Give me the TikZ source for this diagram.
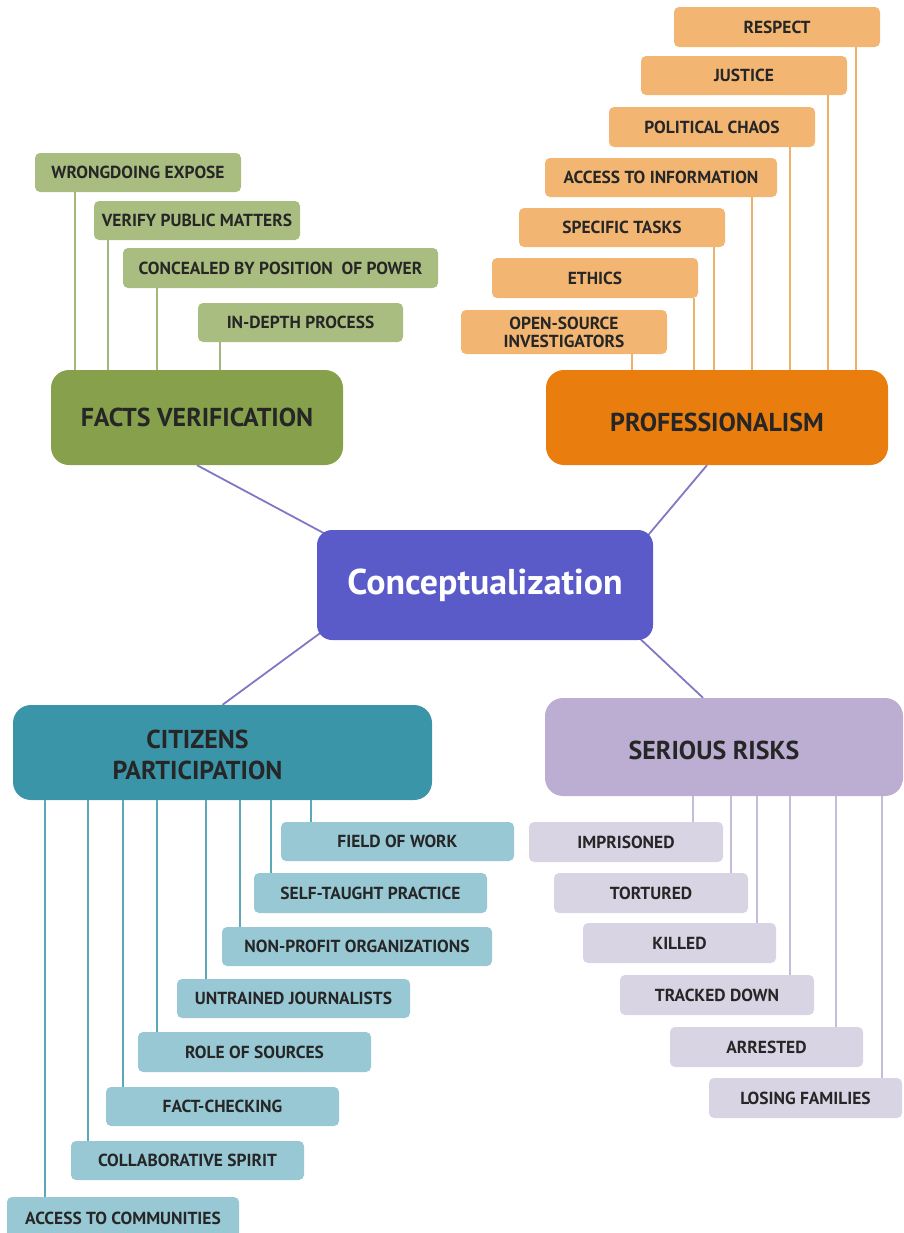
\documentclass[tikz,border=0pt]{standalone}
\usepackage{fontspec}
\setmainfont{PT Sans}
\usetikzlibrary{backgrounds}
\definecolor{gmain}{HTML}{86A04B}
\definecolor{glight}{HTML}{AABD80}
\definecolor{gline}{HTML}{A3B878}
\definecolor{omain}{HTML}{E97E0E}
\definecolor{olight}{HTML}{F2B672}
\definecolor{oline}{HTML}{EFB06A}
\definecolor{tmain}{HTML}{3A95A8}
\definecolor{tlight}{HTML}{97C8D4}
\definecolor{tline}{HTML}{5AA8B8}
\definecolor{lmain}{HTML}{BCAED2}
\definecolor{llight}{HTML}{D9D4E4}
\definecolor{lline}{HTML}{C4BCD8}
\definecolor{cmain}{HTML}{5A5BC8}
\definecolor{connc}{HTML}{8078C4}
\definecolor{txt}{HTML}{262626}
\tikzset{
  box/.style={rectangle, rounded corners=5bp, inner sep=0pt, font=\bfseries\fontsize{17.5}{18}\selectfont, text=txt, align=center},
  big/.style={rectangle, rounded corners=18bp, inner sep=0pt},
  bigtxt/.style={font=\bfseries\fontsize{26}{31}\selectfont, text=txt, align=center, inner sep=0pt},
  stem/.style={line width=2bp},
  link/.style={draw=connc, line width=1.8bp}
}
\newcommand\bx[7]{\node[box, fill=#6, minimum width={(#4-#2)*1bp}, minimum height={(#5-#3)*1bp}] (#1) at ({(#2+#4)/2},{(#3+#5)/2}) {#7};}
\newcommand\bigbx[7]{\node[big, fill=#6, minimum width={(#4-#2)*1bp}, minimum height={(#5-#3)*1bp}, #7] (#1) at ({(#2+#4)/2},{(#3+#5)/2}) {};}
\begin{document}
\begin{tikzpicture}[x=1bp,y=-1bp]
\useasboundingbox (0,0) rectangle (904,1233);
% central
\node[rectangle, rounded corners=15bp, fill=cmain, minimum width=336bp, minimum height=110bp, text=white, font=\bfseries\fontsize{36}{40}\selectfont] (c) at (485,585) {Conceptualization};
% main boxes
\bigbx{fv}{51}{370}{343}{465}{gmain}{label={[bigtxt]center:FACTS VERIFICATION}}
\bigbx{pr}{546}{370}{888}{465}{omain}{label={[bigtxt, yshift=-5bp]center:PROFESSIONALISM}}
\bigbx{cp}{13}{705}{432}{800}{tmain}{label={[bigtxt, xshift=-25bp, yshift=-2bp]center:{CITIZENS\\PARTICIPATION}}}
\bigbx{sr}{545}{698}{903}{796}{lmain}{label={[bigtxt, xshift=-10bp, yshift=-3bp]center:SERIOUS RISKS}}
% green
\bx{g1}{35}{153}{241}{192}{glight}{WRONGDOING EXPOSE}
\bx{g2}{94}{201}{300}{240}{glight}{VERIFY PUBLIC MATTERS}
\bx{g3}{123}{248}{438}{288}{glight}{CONCEALED BY POSITION\ \ OF POWER}
\bx{g4}{198}{303}{403}{342}{glight}{IN-DEPTH PROCESS}
% orange
\bx{o1}{674}{7}{880}{47}{olight}{RESPECT}
\bx{o2}{641}{56}{847}{95}{olight}{JUSTICE}
\bx{o3}{609}{107}{815}{147}{olight}{POLITICAL CHAOS}
\bx{o4}{545}{158}{777}{197}{olight}{ACCESS TO INFORMATION}
\bx{o5}{519}{208}{725}{247}{olight}{SPECIFIC TASKS}
\bx{o6}{492}{258}{698}{298}{olight}{ETHICS}
\bx{o7}{461}{310}{667}{354}{olight}{OPEN-SOURCE\\INVESTIGATORS}
% teal
\bx{t1}{281}{822}{514}{861}{tlight}{FIELD OF WORK}
\bx{t2}{254}{873}{487}{913}{tlight}{SELF-TAUGHT PRACTICE}
\bx{t3}{222}{927}{492}{966}{tlight}{NON-PROFIT ORGANIZATIONS}
\bx{t4}{177}{979}{410}{1018}{tlight}{UNTRAINED JOURNALISTS}
\bx{t5}{138}{1032}{371}{1072}{tlight}{ROLE OF SOURCES}
\bx{t6}{106}{1087}{339}{1126}{tlight}{FACT-CHECKING}
\bx{t7}{71}{1141}{304}{1180}{tlight}{COLLABORATIVE SPIRIT}
\bx{t8}{7}{1197}{239}{1240}{tlight}{ACCESS TO COMMUNITIES}
% lavender
\bx{r1}{529}{822}{723}{862}{llight}{IMPRISONED}
\bx{r2}{554}{873}{748}{913}{llight}{TORTURED}
\bx{r3}{583}{923}{776}{963}{llight}{KILLED}
\bx{r4}{620}{975}{814}{1015}{llight}{TRACKED DOWN}
\bx{r5}{670}{1027}{863}{1067}{llight}{ARRESTED}
\bx{r6}{709}{1078}{902}{1118}{llight}{LOSING FAMILIES}
% stem x positions
\foreach \n/\x in {xg1/75,xg2/108,xg3/157,xg4/220,
  xo1/856,xo2/828,xo3/790,xo4/752,xo5/714,xo6/694,xo7/632,
  xt1/311,xt2/271,xt3/240,xt4/206,xt5/157,xt6/123,xt7/88,xt8/45,
  xr1/693,xr2/731,xr3/757,xr4/790,xr5/836,xr6/882}{\coordinate (\n) at (\x,0);}
\foreach \i in {1,...,4}{\draw[stem, gline] (g\i.south -| xg\i) -- (fv.north -| xg\i);}
\foreach \i in {1,...,7}{\draw[stem, oline] (o\i.south -| xo\i) -- (pr.north -| xo\i);}
\foreach \i in {1,...,8}{\draw[stem, tline] (cp.south -| xt\i) -- (t\i.north -| xt\i);}
\foreach \i in {1,...,6}{\draw[stem, lline] (sr.south -| xr\i) -- (r\i.north -| xr\i);}
% links to centre
\begin{scope}[on background layer]
\draw[link] (fv.south) -- ([shift={(12,6)}]c.north west);
\draw[link] ([xshift=-10bp]pr.south) -- ([shift={(-9,10)}]c.north east);
\draw[link] (cp.north) -- ([shift={(10,-12)}]c.south west);
\draw[link] ([xshift=-21bp]sr.north) -- ([shift={(-18,-6)}]c.south east);
\end{scope}
\end{tikzpicture}
\end{document}
